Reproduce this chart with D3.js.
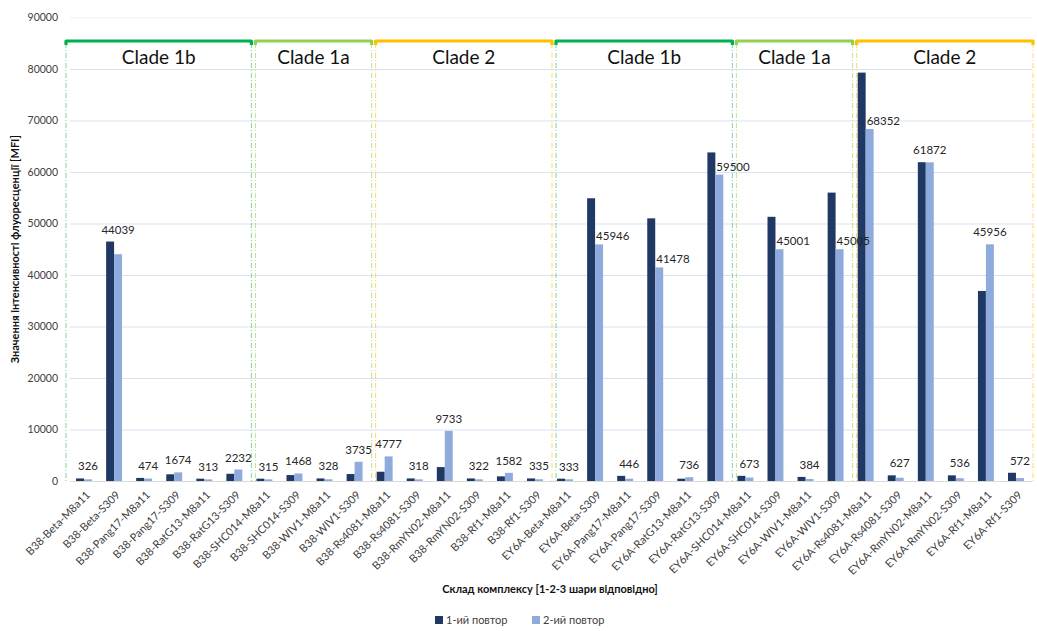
<!DOCTYPE html>
<html>
<head>
<meta charset="utf-8">
<script src="https://cdn.jsdelivr.net/npm/d3@7"></script>
<style>
  body { margin: 0; background: #fff; }
  svg { font-family: Lato, "Open Sans", sans-serif; }
</style>
</head>
<body>
<svg id="chart" width="1037" height="631"></svg>
<script>
// ==================================
// DATA
// ==================================
const categories = [
  "B38-Beta-M8a11", "B38-Beta-S309", "B38-Pang17-M8a11", "B38-Pang17-S309",
  "B38-RatG13-M8a11", "B38-RatG13-S309", "B38-SHC014-M8a11", "B38-SHC014-S309",
  "B38-WIV1-M8a11", "B38-WIV1-S309", "B38-Rs4081-M8a11", "B38-Rs4081-S309",
  "B38-RmYN02-M8a11", "B38-RmYN02-S309", "B38-Rf1-M8a11", "B38-Rf1-S309",
  "EY6A-Beta-M8a11", "EY6A-Beta-S309", "EY6A-Pang17-M8a11", "EY6A-Pang17-S309",
  "EY6A-RatG13-M8a11", "EY6A-RatG13-S309", "EY6A-SHC014-M8a11", "EY6A-SHC014-S309",
  "EY6A-WIV1-M8a11", "EY6A-WIV1-S309", "EY6A-Rs4081-M8a11", "EY6A-Rs4081-S309",
  "EY6A-RmYN02-M8a11", "EY6A-RmYN02-S309", "EY6A-Rf1-M8a11", "EY6A-Rf1-S309"
];

// 1-ий повтор
const repeat1 = [
  500, 46500, 600, 1300, 450, 1400, 450, 1150,
  500, 1350, 1800, 500, 2700, 500, 900, 500,
  450, 54900, 1000, 51000, 450, 63800, 1000, 51300,
  800, 56000, 79300, 1100, 61900, 1100, 36900, 1600
];

// 2-ий повтор (labelled values)
const repeat2 = [
  326, 44039, 474, 1674, 313, 2232, 315, 1468,
  328, 3735, 4777, 318, 9733, 322, 1582, 335,
  333, 45946, 446, 41478, 736, 59500, 673, 45001,
  384, 45005, 68352, 627, 61872, 536, 45956, 572
];

const seriesNames = ["1-ий повтор", "2-ий повтор"];
const seriesColors = ["#203864", "#8FAADC"];

// clade groups: name, first category index, last category index
const cladeNames = ["Clade 1b", "Clade 1a", "Clade 2", "Clade 1b", "Clade 1a", "Clade 2"];
const cladeStart = [0, 6, 10, 16, 22, 26];
const cladeEnd = [5, 9, 15, 21, 25, 31];
const cladeColors = ["#00B050", "#92D050", "#FFC000", "#00B050", "#92D050", "#FFC000"];
const cladeSideColors = ["#7FD3A0", "#B9E48F", "#FFD966", "#7FD3A0", "#B9E48F", "#FFD966"];

const yTicks = [0, 10000, 20000, 30000, 40000, 50000, 60000, 70000, 80000, 90000];

// ==================================
// LAYOUT
// ==================================
const svg = d3.select("#chart");
const LEFT = 69, RIGHT = 1031, TOP = 17.5, BOTTOM = 481;

const x0 = d3.scaleBand().domain(categories).range([LEFT, RIGHT]).paddingInner(0.47).paddingOuter(0.235);
const x1 = d3.scaleBand().domain([0, 1]).range([0, x0.bandwidth()]);
const y = d3.scaleLinear().domain([0, 90000]).range([BOTTOM, TOP]);
const step = x0.step();

// gridlines
const grid = svg.append("g")
  .attr("transform", `translate(${LEFT + 1},0)`)
  .call(d3.axisLeft(y).tickValues(yTicks).tickSize(-(RIGHT - LEFT)).tickFormat(""));
grid.select(".domain").remove();
grid.selectAll(".tick line")
  .attr("stroke", d => d === 0 ? "#D9D9D9" : (d === 90000 ? "#EEF1F8" : "#D9E1F2"))
  .attr("stroke-width", 1);

// y axis labels
const yAxis = svg.append("g")
  .attr("transform", `translate(${LEFT},0)`)
  .call(d3.axisLeft(y).tickValues(yTicks).tickSize(0).tickPadding(11).tickFormat(d3.format("d")));
yAxis.select(".domain").remove();
yAxis.selectAll("text")
  .attr("fill", "#404040")
  .style("font-size", "10.5px")
  .style("font-family", "Lato, sans-serif");

// ==================================
// CLADE BOXES
// ==================================
cladeNames.forEach((name, i) => {
  const b0 = LEFT + cladeStart[i] * step;
  const b1 = LEFT + (cladeEnd[i] + 1) * step;
  const xa = i === 0 ? b0 - 3 : b0 + 6;
  const xb = b1 + 2;
  const top = 41;
  const g = svg.append("g");
  [xa, xb].forEach(xx => {
    g.append("line")
      .attr("x1", xx).attr("x2", xx)
      .attr("y1", top + 2).attr("y2", BOTTOM)
      .attr("stroke", cladeSideColors[i])
      .attr("stroke-width", 1)
      .attr("stroke-dasharray", "5,2,1,2");
  });
  g.append("path")
    .attr("d", `M${xa},${top + 4}L${xa},${top}L${xb},${top}L${xb},${top + 4}`)
    .attr("fill", "none")
    .attr("stroke", cladeColors[i])
    .attr("stroke-width", 3.2)
    .attr("stroke-linejoin", "round");
  g.append("text")
    .attr("x", (xa + xb) / 2)
    .attr("y", 64)
    .attr("text-anchor", "middle")
    .attr("fill", "#111")
    .style("font-size", "19px")
    .text(name);
});

// ==================================
// BARS
// ==================================
const rows = categories.map((c, i) => ({ cat: c, vals: [repeat1[i], repeat2[i]] }));

const groups = svg.append("g").selectAll("g")
  .data(rows)
  .enter().append("g")
  .attr("transform", d => `translate(${x0(d.cat)},0)`);

groups.selectAll("rect")
  .data(d => d.vals.map((v, k) => ({ k: k, v: v })))
  .enter().append("rect")
  .attr("x", d => x1(d.k))
  .attr("y", d => y(d.v))
  .attr("width", x1.bandwidth())
  .attr("height", d => BOTTOM - y(d.v))
  .attr("fill", d => seriesColors[d.k]);

// data labels for the 2nd repeat (drawn on top of all bars)
svg.append("g").selectAll("text")
  .data(rows)
  .enter().append("text")
  .style("font-size", "11.5px")
  .attr("fill", "#262626")
  .each(function(d) {
    const t = d3.select(this);
    const lx = x0(d.cat) + x1(1);
    if (d.vals[0] - d.vals[1] > 3000) {
      t.attr("x", lx + 1).attr("y", y(d.vals[1]) - 4).attr("text-anchor", "start");
    } else {
      t.attr("x", lx + x1.bandwidth() / 2).attr("y", y(Math.max(d.vals[0], d.vals[1])) - 8)
        .attr("text-anchor", "middle");
    }
  })
  .text(d => d.vals[1]);

// ==================================
// X AXIS
// ==================================
const xAxis = svg.append("g")
  .attr("transform", `translate(0,${BOTTOM})`)
  .call(d3.axisBottom(x0).tickSize(0).tickPadding(0));
xAxis.select(".domain").remove();
xAxis.selectAll("text")
  .attr("y", 0)
  .attr("dy", "0.35em")
  .attr("text-anchor", "end")
  .attr("transform", "translate(4,12) rotate(-45)")
  .attr("fill", "#404040")
  .style("font-size", "11px")
  .style("font-family", "Lato, sans-serif");

// axis titles
svg.append("text")
  .attr("transform", `translate(19,${(TOP + BOTTOM) / 2}) rotate(-90)`)
  .attr("text-anchor", "middle")
  .attr("fill", "#111")
  .style("font-size", "11px")
  .style("font-weight", "bold")
  .text("Значення інтенсивності флуоресценції [MFI]");

svg.append("text")
  .attr("x", (LEFT + RIGHT) / 2)
  .attr("y", 593)
  .attr("text-anchor", "middle")
  .attr("fill", "#111")
  .style("font-size", "11px")
  .style("font-weight", "bold")
  .text("Склад комплексу [1-2-3 шари відповідно]");

// legend
const legend = svg.append("g").attr("transform", "translate(435,620)");
seriesNames.forEach((name, k) => {
  const lg = legend.append("g").attr("transform", `translate(${k * 97},0)`);
  lg.append("rect").attr("x", 0).attr("y", -4).attr("width", 8).attr("height", 8).attr("fill", seriesColors[k]);
  lg.append("text").attr("x", 11).attr("y", 4).attr("fill", "#404040")
    .style("font-size", "11px").text(name);
});
</script>
</body>
</html>
